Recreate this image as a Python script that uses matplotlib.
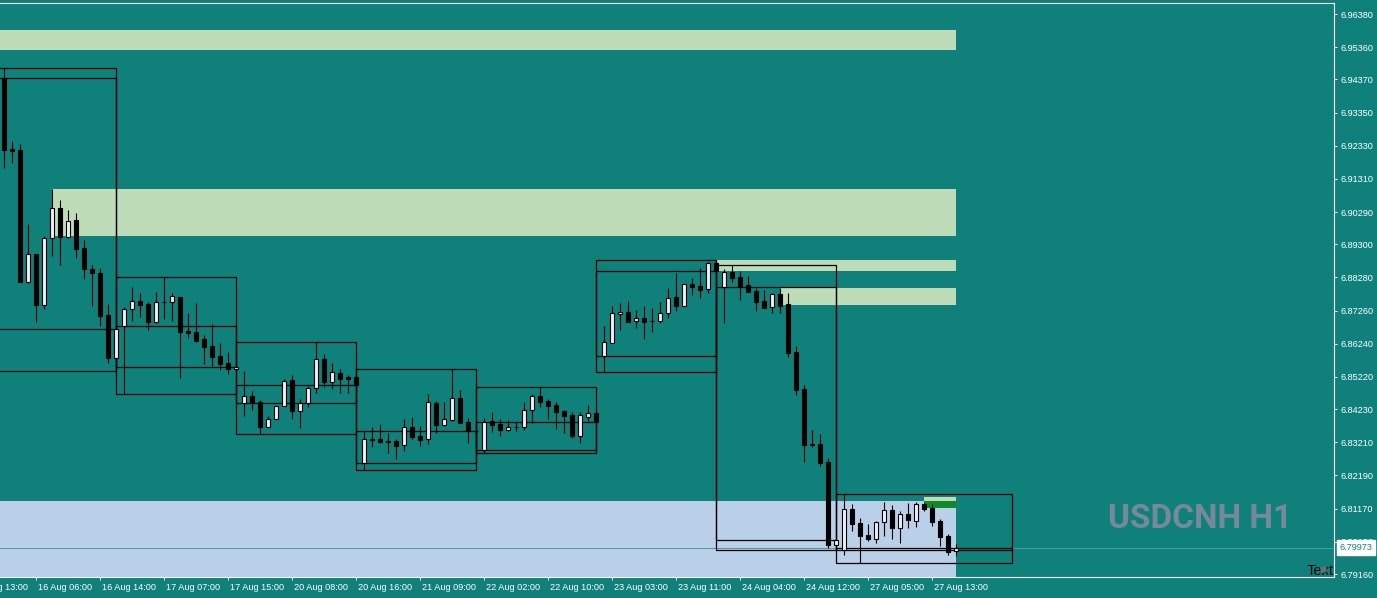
import numpy as np
import matplotlib
matplotlib.use("Agg")
import matplotlib.pyplot as plt
from matplotlib.patches import Rectangle
from matplotlib.transforms import ScaledTranslation

# USDCNH H1 candles, bar index -4 .. 115 (oldest on the left)
opens = [
    6.94403, 6.92229, 6.92198, 6.88148, 6.88991, 6.87441, 6.89483, 6.90405, 6.89532, 6.90036,
    6.89175, 6.88530, 6.88407, 6.87115, 6.85811, 6.86795, 6.87300, 6.87555, 6.87463, 6.86918,
    6.87515, 6.87515, 6.87678, 6.86632, 6.86592, 6.86377, 6.86171, 6.85864, 6.85648, 6.85455,
    6.84409, 6.84624, 6.84449, 6.83690, 6.83917, 6.84317, 6.85126, 6.84182, 6.84409, 6.84870,
    6.85762, 6.85073, 6.85341, 6.85209, 6.85209, 6.82564, 6.83302, 6.83302, 6.83250, 6.83250,
    6.83118, 6.83690, 6.83394, 6.83302, 6.84418, 6.83751, 6.83886, 6.84563, 6.83825, 6.83548,
    6.82964, 6.83856, 6.83773, 6.83597, 6.83671, 6.83671, 6.84194, 6.84634, 6.84480, 6.84357,
    6.84172, 6.84049, 6.83413, 6.83997, 6.84111, 6.85854, 6.86254, 6.87146, 6.87217, 6.86931,
    6.87023, 6.86931, 6.86931, 6.87177, 6.87669, 6.87410, 6.88078, 6.88007, 6.87915, 6.88714,
    6.87976, 6.88437, 6.88284, 6.88038, 6.87862, 6.87555, 6.87361, 6.87770, 6.87463, 6.85987,
    6.84849, 6.83148, 6.83148, 6.82604, 6.80043, 6.79889, 6.81159, 6.80719, 6.80350, 6.80246,
    6.80750, 6.81119, 6.80584, 6.81005, 6.80799, 6.81303, 6.81190, 6.80780, 6.80319, 6.79858,
]
highs = [
    6.94710, 6.92475, 6.92383, 6.89923, 6.89000, 6.89554, 6.90999, 6.90661, 6.90353, 6.90252,
    6.89431, 6.88653, 6.88560, 6.87453, 6.86685, 6.87380, 6.87976, 6.87801, 6.87515, 6.87832,
    6.88302, 6.87801, 6.87680, 6.87186, 6.87493, 6.86509, 6.86848, 6.86263, 6.85987, 6.85525,
    6.85393, 6.84787, 6.84511, 6.84019, 6.84326, 6.85147, 6.85279, 6.84541, 6.84941, 6.86285,
    6.85925, 6.85648, 6.85464, 6.85279, 6.85218, 6.83548, 6.83680, 6.83773, 6.83496, 6.83311,
    6.83926, 6.83988, 6.83702, 6.84695, 6.84480, 6.84449, 6.85455, 6.84818, 6.83948, 6.83619,
    6.83948, 6.84132, 6.83926, 6.83886, 6.83843, 6.84440, 6.84695, 6.84901, 6.84532, 6.84440,
    6.84203, 6.84132, 6.84132, 6.84357, 6.84172, 6.86786, 6.87401, 6.87493, 6.87555, 6.87278,
    6.87401, 6.87340, 6.87524, 6.87955, 6.88416, 6.88078, 6.88262, 6.88570, 6.88754, 6.88806,
    6.88539, 6.88671, 6.88468, 6.88314, 6.87955, 6.87893, 6.87792, 6.87964, 6.87801, 6.86162,
    6.84972, 6.83588, 6.83465, 6.82727, 6.80196, 6.81611, 6.81313, 6.80882, 6.80688, 6.80790,
    6.81365, 6.81282, 6.81088, 6.81343, 6.81365, 6.81353, 6.81313, 6.80842, 6.80390, 6.80073,
]
lows = [
    6.91654, 6.91808, 6.88139, 6.88118, 6.86918, 6.87318, 6.88939, 6.88671, 6.89501, 6.88886,
    6.88241, 6.87410, 6.86795, 6.85658, 6.85402, 6.84686, 6.86949, 6.87072, 6.86672, 6.86888,
    6.87011, 6.86949, 6.85196, 6.86426, 6.86303, 6.85627, 6.85565, 6.85442, 6.85319, 6.85433,
    6.84028, 6.84203, 6.83456, 6.83680, 6.83911, 6.84311, 6.83935, 6.83659, 6.84305, 6.84717,
    6.84901, 6.84858, 6.84735, 6.84735, 6.84941, 6.82358, 6.83075, 6.83179, 6.82881, 6.82696,
    6.82952, 6.83311, 6.83096, 6.83167, 6.83505, 6.83711, 6.83880, 6.83813, 6.83198, 6.83465,
    6.82872, 6.83536, 6.83413, 6.83557, 6.83557, 6.83579, 6.83813, 6.84305, 6.83935, 6.83619,
    6.83505, 6.83351, 6.83198, 6.83874, 6.83834, 6.85362, 6.86250, 6.86663, 6.86918, 6.86734,
    6.86396, 6.86602, 6.86888, 6.87041, 6.87257, 6.87400, 6.87749, 6.87656, 6.87810, 6.88468,
    6.86888, 6.88148, 6.87595, 6.87841, 6.87257, 6.87349, 6.87195, 6.87195, 6.85842, 6.84674,
    6.82613, 6.83056, 6.82490, 6.79969, 6.79889, 6.79744, 6.80492, 6.79489, 6.80175, 6.80123,
    6.80338, 6.80236, 6.80123, 6.80584, 6.80615, 6.81107, 6.80645, 6.80030, 6.79744, 6.79714,
]
closes = [
    6.92198, 6.92177, 6.88148, 6.88991, 6.87441, 6.89483, 6.90405, 6.89532, 6.90006, 6.89163,
    6.88548, 6.88425, 6.87103, 6.85811, 6.86685, 6.87309, 6.87555, 6.87441, 6.86918, 6.87515,
    6.87512, 6.87699, 6.86611, 6.86580, 6.86334, 6.86150, 6.85842, 6.85627, 6.85473, 6.85516,
    6.84624, 6.84409, 6.83690, 6.83917, 6.84317, 6.85095, 6.84182, 6.84409, 6.84870, 6.85762,
    6.85073, 6.85362, 6.85166, 6.85166, 6.84963, 6.83302, 6.83290, 6.83210, 6.83210, 6.83105,
    6.83690, 6.83382, 6.83290, 6.84440, 6.83751, 6.83917, 6.84563, 6.83813, 6.83548, 6.83545,
    6.83825, 6.83751, 6.83588, 6.83671, 6.83668, 6.84194, 6.84634, 6.84458, 6.84335, 6.84151,
    6.84028, 6.83413, 6.84049, 6.84111, 6.83843, 6.86285, 6.87186, 6.87217, 6.86918, 6.87023,
    6.86918, 6.86928, 6.87177, 6.87638, 6.87410, 6.88068, 6.87995, 6.87902, 6.88714, 6.88468,
    6.88437, 6.88271, 6.88025, 6.87841, 6.87533, 6.87349, 6.87770, 6.87410, 6.85965, 6.84827,
    6.83136, 6.83127, 6.82583, 6.80043, 6.80196, 6.81150, 6.80707, 6.80338, 6.80246, 6.80750,
    6.81119, 6.80584, 6.81005, 6.80811, 6.81303, 6.81168, 6.80768, 6.80307, 6.79846, 6.79973,
]
first_bar = -4
current_price = 6.79973

# session boxes: bars in (edge[k], edge[k+1]]
box_edges = [-5, 10, 25, 40, 55, 70, 85, 100, 122]

# supply / demand zones
zone_left = [-5, 2, 85, 93, -5, 111, 111]
zone_right = [115, 115, 115, 115, 115, 115, 115]
zone_top = [6.95888, 6.90999, 6.88816, 6.87964, 6.81405, 6.81528, 6.81414]
zone_bottom = [6.95273, 6.89554, 6.88477, 6.87432, 6.78500, 6.81414, 6.81190]
zone_colors = ["#bedcb8", "#bedcb8", "#bedcb8", "#bedcb8", "#bacfe8", "#bedcb8", "#108a28"]

# time axis labels every 8 bars
time_ticks = [0, 8, 16, 24, 32, 40, 48, 56, 64, 72, 80, 88, 96, 104, 112]
time_labels = ["16 Aug 06:00", "16 Aug 14:00", "17 Aug 07:00", "17 Aug 15:00", "20 Aug 08:00",
               "20 Aug 16:00", "21 Aug 09:00", "22 Aug 02:00", "22 Aug 10:00", "23 Aug 03:00",
               "23 Aug 11:00", "24 Aug 04:00", "24 Aug 12:00", "27 Aug 05:00", "27 Aug 13:00"]
first_label_bar = -8
first_label = "15 Aug 13:00"

price_ticks = [6.96380, 6.95360, 6.94370, 6.93350, 6.92330, 6.91310, 6.90290, 6.89300, 6.88280,
               6.87260, 6.86240, 6.85220, 6.84230, 6.83210, 6.82190, 6.81170, 6.80150, 6.79160]

bg = "#0f817a"
tick_font = "Liberation Sans"

opens, highs, lows, closes = map(np.array, (opens, highs, lows, closes))
bars = np.arange(first_bar, first_bar + len(opens))

fig = plt.figure(figsize=(13.77, 5.98), dpi=100, facecolor=bg)
ax = fig.add_axes([0, 21 / 598, 1334 / 1377, 574 / 598])
ax.set_facecolor(bg)

# zones
for l, r, t, b, c in zip(zone_left, zone_right, zone_top, zone_bottom, zone_colors):
    ax.add_patch(Rectangle((l, b), r - l, t - b, facecolor=c, edgecolor="none", zorder=0.5))

# bid line
ax.axhline(current_price, color="#4f9d9a", lw=0.75, zorder=1.5)

# session boxes (high/low and open/close)
for k in range(len(box_edges) - 1):
    left, right = box_edges[k], box_edges[k + 1]
    m = (bars > left) & (bars <= right)
    hi, lo = highs[m].max(), lows[m].min()
    o, c = opens[m][0], closes[m][-1]
    ax.add_patch(Rectangle((left, lo), right - left, hi - lo, fill=False,
                           edgecolor="black", lw=0.9, zorder=2))
    ax.add_patch(Rectangle((left, min(o, c)), right - left, abs(c - o), fill=False,
                           edgecolor="black", lw=0.9, zorder=2))

# candles
ax.vlines(bars, lows, highs, color="black", lw=0.8, zorder=3)
fills = np.where(closes >= opens, "#eef0fb", "black")
ax.bar(bars, np.abs(closes - opens), bottom=np.minimum(opens, closes), width=0.5,
       color=fills, edgecolor="black", linewidth=0.8, zorder=4)

ax.set_xlim(-4.5, 162.25)
ax.set_ylim(6.790678, 6.967183)

# frame
ax.spines["left"].set_visible(False)
for s in ("top", "right", "bottom"):
    ax.spines[s].set_color("white")
    ax.spines[s].set_linewidth(0.8)

# x axis
ax.set_xticks(time_ticks)
ax.set_xticklabels(time_labels, ha="left", fontsize=6.6, family=tick_font)
ax.tick_params(axis="x", colors="white", length=2.5, width=0.7, pad=1.5)
shift = ScaledTranslation(2 / 100, 0, fig.dpi_scale_trans)
for lbl in ax.get_xticklabels():
    lbl.set_transform(lbl.get_transform() + shift)
ax.annotate(first_label, xy=(first_label_bar, 0), xycoords=("data", "axes fraction"),
            xytext=(1.5, -4.2), textcoords="offset points", ha="left", va="top",
            fontsize=6.6, family=tick_font, color="white", annotation_clip=False)

# y axis on the right
ax.yaxis.tick_right()
ax.set_yticks(price_ticks)
ax.set_yticklabels([f"{p:.5f}" for p in price_ticks], fontsize=6.6, family=tick_font)
ax.tick_params(axis="y", colors="white", length=2.5, width=0.7, pad=2.5)

# current price label
ax.annotate(f"{current_price:.5f}", xy=(1, current_price), xycoords=("axes fraction", "data"),
            xytext=(3.8, 0), textcoords="offset points", ha="left", va="center",
            fontsize=6.6, family=tick_font, color=bg, annotation_clip=False, zorder=10,
            bbox=dict(boxstyle="square,pad=0.3", fc="white", ec="white"))

# symbol watermark
ax.text(0.8996, 0.0848, "USDCNH H1", transform=ax.transAxes, ha="center", va="baseline",
        fontsize=24, fontweight="bold", color="#778899",
        family=["Roboto", "DejaVu Sans"], zorder=0.8)

# text object in the corner
ax.text(1.0, 0.0035, "Text", transform=ax.transAxes, ha="right", va="baseline",
        fontsize=10.5, color="black", family=tick_font, zorder=6)
ax.plot([0.99175], [0.0139], marker="o", ms=3.5, color="#6e6e6e", transform=ax.transAxes,
        clip_on=False, zorder=7)

fig.savefig("out.png", dpi=100, facecolor=bg)
